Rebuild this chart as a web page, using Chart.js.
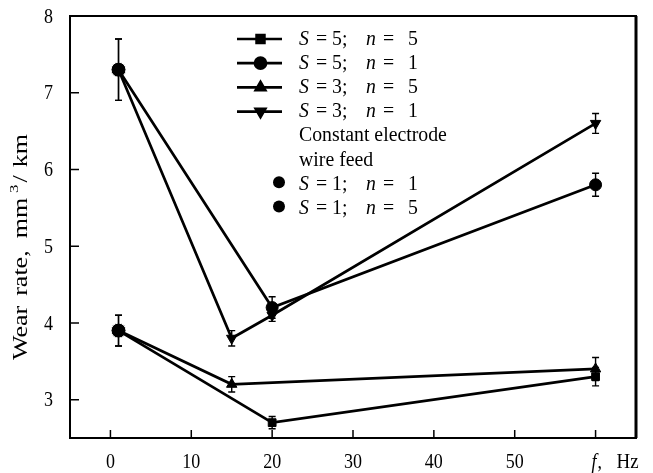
<!DOCTYPE html>
<html>
<head>
<meta charset="utf-8">
<script src="https://cdn.jsdelivr.net/npm/chart.js@4.4.0/dist/chart.umd.min.js"></script>
<style>
  html, body { margin: 0; padding: 0; background: #fff; }
  #wrap { width: 653px; height: 473px; position: relative; }
</style>
</head>
<body>
<div id="wrap"><canvas id="wearChart"></canvas></div>
<script>
// Data: wear rate (mm3/km) vs pulse frequency f (Hz)
const freqS5 = [1, 20, 60];
const wearS5n5 = [3.9, 2.7, 3.3];
const errS5n5 = [0.2, 0.08, 0.12];
const wearS5n1 = [7.3, 4.2, 5.8];
const errS5n1 = [0.4, 0.14, 0.15];

const freqS3n5 = [1, 15, 60];
const wearS3n5 = [3.9, 3.2, 3.4];
const errS3n5 = [0.2, 0.1, 0.15];

const freqS3n1 = [1, 15, 20, 60];
const wearS3n1 = [7.3, 3.8, 4.1, 6.6];
const errS3n1 = [0.4, 0.1, 0.08, 0.13];

// Constant electrode wire feed
const freqConst = [1];
const wearS1n1 = [7.3];
const wearS1n5 = [3.9];

const xTicks = [0, 10, 20, 30, 40, 50, 60];
const xTickLabels = ['0', '10', '20', '30', '40', '50', ''];
const yTicks = [3, 4, 5, 6, 7, 8];

const legendItems = [
    { s: '5', n: '5', style: 'rect', rot: 0, line: true },
    { s: '5', n: '1', style: 'circle', rot: 0, line: true },
    { s: '3', n: '5', style: 'triangle', rot: 0, line: true },
    { s: '3', n: '1', style: 'triangle', rot: 180, line: true },
    { text: 'Constant electrode' },
    { text: 'wire feed' },
    { s: '1', n: '1', style: 'circle', rot: 0, line: false },
    { s: '1', n: '5', style: 'circle', rot: 0, line: false }
];

const FONT = '"Liberation Serif", "DejaVu Serif", serif';
const SY = 1.2;   // the scanned figure's text is taller than Times

const toPts = (xs, ys) => xs.map((x, i) => ({ x, y: ys[i] }));

function series(label, xs, ys, errs, style, rot, radius) {
    return {
        label,
        data: toPts(xs, ys),
        errors: errs,
        showLine: true,
        borderColor: '#000',
        backgroundColor: '#000',
        borderWidth: 2.7,
        pointStyle: style,
        pointRotation: rot,
        pointRadius: radius,
        pointBorderWidth: 1,
        pointBorderColor: '#000'
    };
}

// draw text stretched by sx / sy around its anchor, returns drawn width
function stretchText(ctx, txt, x, y, sx, sy, align) {
    ctx.save();
    ctx.translate(x, y);
    ctx.scale(sx, sy);
    ctx.textAlign = align || 'left';
    ctx.textBaseline = 'middle';
    ctx.fillText(txt, 0, 0);
    const w = ctx.measureText(txt).width * sx;
    ctx.restore();
    return w;
}

// Error bars, tick marks, labels, frame and custom legend
const decorPlugin = {
    id: 'decor',
    afterDatasetsDraw(chart) {
        const ctx = chart.ctx;
        const xs = chart.scales.x, ys = chart.scales.y;
        ctx.save();
        ctx.strokeStyle = '#000';
        ctx.lineWidth = 1.4;
        chart.data.datasets.forEach(ds => {
            if (!ds.errors) return;
            ds.data.forEach((p, i) => {
                const e = ds.errors[i];
                const px = xs.getPixelForValue(p.x);
                const y1 = ys.getPixelForValue(p.y + e);
                const y2 = ys.getPixelForValue(p.y - e);
                ctx.beginPath();
                ctx.moveTo(px, y1); ctx.lineTo(px, y2);
                ctx.moveTo(px - 3.5, y1); ctx.lineTo(px + 3.5, y1);
                ctx.moveTo(px - 3.5, y2); ctx.lineTo(px + 3.5, y2);
                ctx.stroke();
            });
        });
        ctx.restore();
    },
    afterDraw(chart) {
        const ctx = chart.ctx;
        const a = chart.chartArea;
        const xs = chart.scales.x, ys = chart.scales.y;
        ctx.save();
        ctx.strokeStyle = '#000';
        ctx.fillStyle = '#000';
        ctx.lineWidth = 2;
        ctx.strokeRect(a.left, a.top, a.right - a.left, a.bottom - a.top);
        ctx.lineWidth = 3;
        ctx.beginPath();
        ctx.moveTo(a.right, a.top); ctx.lineTo(a.right, a.bottom);
        ctx.stroke();

        // inner ticks
        ctx.lineWidth = 1.5;
        ctx.beginPath();
        xTicks.forEach(v => {
            const px = xs.getPixelForValue(v);
            ctx.moveTo(px, a.bottom); ctx.lineTo(px, a.bottom - 8);
        });
        yTicks.forEach(v => {
            const py = ys.getPixelForValue(v);
            ctx.moveTo(a.left, py); ctx.lineTo(a.left + 9, py);
        });
        ctx.stroke();

        // tick labels
        ctx.font = '18px ' + FONT;
        xTicks.forEach((v, i) => {
            stretchText(ctx, xTickLabels[i], xs.getPixelForValue(v), a.bottom + 24, 1, SY, 'center');
        });
        yTicks.forEach(v => {
            stretchText(ctx, String(v), a.left - 17, ys.getPixelForValue(v) + 1, 1, SY, 'right');
        });

        // "f, Hz" label at last x tick
        const fx = xs.getPixelForValue(60);
        const ty = a.bottom + 24;
        ctx.font = 'italic 18px ' + FONT;
        const fw = stretchText(ctx, 'f', fx - 4, ty, 1, SY);
        ctx.font = '18px ' + FONT;
        stretchText(ctx, ',', fx - 3 + fw, ty, 1, SY);
        stretchText(ctx, 'Hz', fx + 21, ty, 1.05, SY);

        // y axis title with superscript, laid out along the axis
        ctx.save();
        ctx.translate(22, 360);
        ctx.rotate(-Math.PI / 2);
        const tsx = 1.3;
        let u = 0;
        ctx.font = '20px ' + FONT;
        u += stretchText(ctx, 'Wear', u, 0, tsx, 1) + 10;
        u += stretchText(ctx, 'rate,', u, 0, tsx, 1) + 12;
        u += stretchText(ctx, 'mm', u, 0, tsx, 1) + 5;
        ctx.font = '13px ' + FONT;
        u += stretchText(ctx, '3', u, -7, tsx, 1) + 2;
        ctx.font = '20px ' + FONT;
        u += stretchText(ctx, '/', u, 0, tsx, 1) + 8;
        stretchText(ctx, 'km', u, 0, tsx, 1);
        ctx.restore();

        // legend
        const lx0 = 237, lx1 = 282, tx = 299;
        let ly = 39;
        legendItems.forEach(item => {
            if (item.text) {
                ctx.font = '18px ' + FONT;
                stretchText(ctx, item.text, tx, ly, 1.1, SY);
            } else {
                if (item.line) {
                    ctx.lineWidth = 2.7;
                    ctx.beginPath();
                    ctx.moveTo(lx0, ly); ctx.lineTo(lx1, ly);
                    ctx.stroke();
                    Chart.helpers.drawPoint(ctx, {
                        pointStyle: item.style, rotation: item.rot, radius: 5.5, borderWidth: 1
                    }, (lx0 + lx1) / 2 + 1, ly);
                    ctx.fill();
                } else {
                    ctx.beginPath();
                    ctx.arc(279, ly - 2, 6, 0, Math.PI * 2);
                    ctx.fill();
                }
                const parts = [
                    [0, 'italic', 'S'], [17, '', '='], [33, '', item.s + ';'],
                    [67, 'italic', 'n'], [84, '', '='], [109, '', item.n]
                ];
                parts.forEach(([dx, st, txt]) => {
                    ctx.font = (st ? st + ' ' : '') + '18px ' + FONT;
                    stretchText(ctx, txt, tx + dx, ly, 1.1, SY);
                });
            }
            ly += 24.2;
        });
        ctx.restore();
    }
};

new Chart(document.getElementById('wearChart').getContext('2d'), {
    type: 'scatter',
    data: {
        datasets: [
            series('S = 5; n = 5', freqS5, wearS5n5, errS5n5, 'rect', 0, 5.5),
            series('S = 5; n = 1', freqS5, wearS5n1, errS5n1, 'circle', 0, 6),
            series('S = 3; n = 5', freqS3n5, wearS3n5, errS3n5, 'triangle', 0, 6),
            series('S = 3; n = 1', freqS3n1, wearS3n1, errS3n1, 'triangle', 180, 6),
            Object.assign(series('S = 1; n = 1', freqConst, wearS1n1, null, 'circle', 0, 7.5),
                { showLine: false, pointBorderColor: '#fff', pointBorderWidth: 1 }),
            Object.assign(series('S = 1; n = 5', freqConst, wearS1n5, null, 'circle', 0, 7.5),
                { showLine: false, pointBorderColor: '#fff', pointBorderWidth: 1 })
        ]
    },
    options: {
        responsive: true,
        maintainAspectRatio: false,
        animation: false,
        layout: { padding: { top: 16, right: 17, left: 0, bottom: 0 } },
        scales: {
            x: {
                type: 'linear',
                min: -5,
                max: 65,
                afterBuildTicks: s => { s.ticks = xTicks.map(v => ({ value: v })); },
                afterFit: s => { s.height = 35; },
                grid: { display: false, drawTicks: false },
                border: { display: false },
                ticks: { display: false }
            },
            y: {
                min: 2.5,
                max: 8,
                afterBuildTicks: s => { s.ticks = yTicks.map(v => ({ value: v })); },
                afterFit: s => { s.width = 70; },
                grid: { display: false, drawTicks: false },
                border: { display: false },
                ticks: { display: false }
            }
        },
        plugins: {
            legend: { display: false },
            tooltip: { enabled: false }
        }
    },
    plugins: [decorPlugin]
});
</script>
</body>
</html>
